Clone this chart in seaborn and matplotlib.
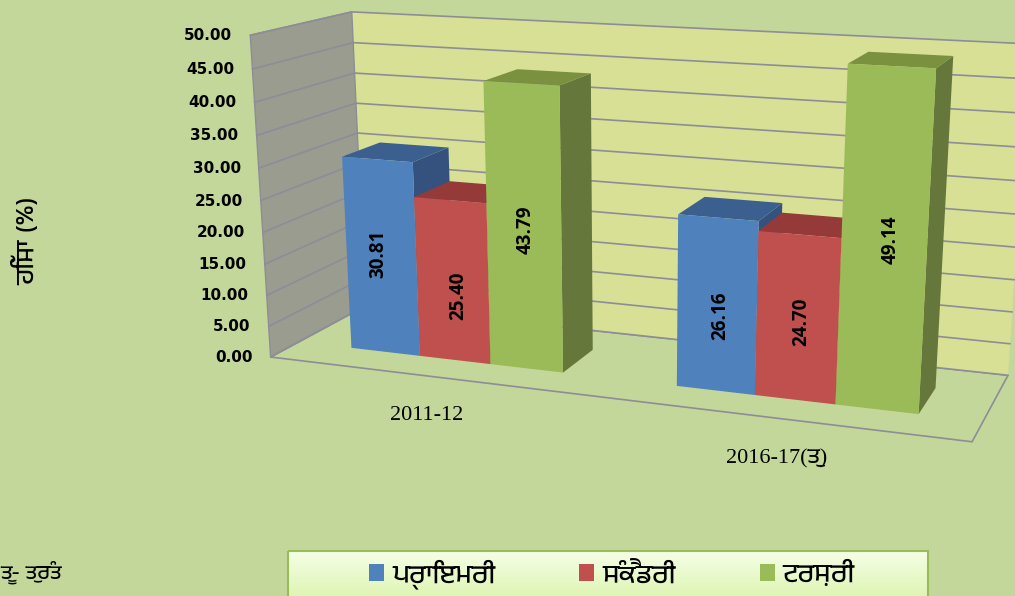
import matplotlib
matplotlib.use("Agg")
import matplotlib.pyplot as plt
import numpy as np
import pandas as pd
import seaborn as sns
from matplotlib import font_manager
from matplotlib.patches import Polygon, Rectangle
from matplotlib.transforms import Affine2D, Transform

W, H = 1015, 596
years = ["2011-12", "2016-17(ਤੁ)"]
levels = ["ਪ੍ਰਾਇਮਰੀ", "ਸੰਕੈਡਰੀ", "ਟਰਸ਼ਰੀ"]
primary = [30.81, 26.16]
secondary = [25.40, 24.70]
tertiary = [43.79, 49.14]
y_ticks = [0, 5, 10, 15, 20, 25, 30, 35, 40, 45, 50]

BG = "#c4d79b"
FRONT = ["#4f81bd", "#c0504d", "#9bbb59"]
TOP = ["#3b6090", "#953a38", "#7a9140"]
SIDE = ["#34527d", "#953a38", "#65773a"]
GRID = "#8d8d98"

# label offsets in pixels, left to right along the bars
LABEL_DX = [-3, 6, 2, 3, 4, 7]
LABEL_DY = [-3, 15, 0, 10, 4, -3]


def gurmukhi_families():
    found = []
    for entry in font_manager.fontManager.ttflist:
        try:
            if 0x0A2A in font_manager.get_font(entry.fname).get_charmap():
                found.append(entry.name)
        except Exception:
            continue
    return sorted(set(found))


UNI = gurmukhi_families() + ["Noto Sans", "DejaVu Sans"]

# where the chart box corners land in the picture: (x, value/50, depth) -> pixels
anchors = [
    ((0, 0, 0), (270, 357)),
    ((1, 0, 0), (972, 442)),
    ((0, 0, 1), (366, 306)),
    ((1, 0, 1), (1008, 375)),
    ((0, 1, 0), (251, 35)),
    ((0, 1, 1), (351, 12)),
    ((1, 1, 1), (1030, 44)),
]
rows, rhs = [], []
for (a, b, c), (u, v) in anchors:
    rows.append([a, b, c, 1, 0, 0, 0, 0, -u * a, -u * b, -u * c])
    rows.append([0, 0, 0, 0, a, b, c, 1, -v * a, -v * b, -v * c])
    rhs += [u, v]
sol = np.linalg.lstsq(np.array(rows, float), np.array(rhs, float), rcond=None)[0]
P = np.append(sol, 1.0).reshape(3, 4)


def project(x, val, z):
    x, val, z = np.broadcast_arrays(np.asarray(x, float), np.asarray(val, float), np.asarray(z, float))
    pts = np.stack([x, val / 50.0, z, np.ones_like(x, dtype=float)], axis=-1) @ P.T
    return pts[..., :2] / pts[..., 2:]


X0, X_STEP = 0.2525, 0.4985
Z0, Z1 = 0.28, 0.68


def to_world(cat):
    return X0 + X_STEP * np.asarray(cat, float)


class FrontFace(Transform):
    # seaborn's (category, value) onto the slanted front plane of the bars
    input_dims = output_dims = 2
    is_affine = False

    def transform_non_affine(self, values):
        values = np.asarray(values, float)
        uv = project(to_world(values[:, 0]), values[:, 1], Z0)
        return np.column_stack([uv[:, 0], H - uv[:, 1]])


sns.set_theme(style="white", rc={"figure.facecolor": BG})
fig = plt.figure(figsize=(W / 100, H / 100), dpi=100, facecolor=BG)
ax = fig.add_axes([0, 0, 1, 1])

df = pd.DataFrame({
    "year": years * 3,
    "level": [lv for lv in levels for _ in years],
    "share": primary + secondary + tertiary,
})
sns.barplot(data=df, x="year", y="share", hue="level", palette=FRONT, saturation=1,
            width=0.665, gap=0, linewidth=0, ax=ax)
pix = Affine2D().scale(1, -1).translate(0, H)

# walls and floor
floor = project([0, 1, 1, 0], 0, [0, 0, 1, 1])
back = project([0, 1, 1, 0], [0, 0, 50, 50], 1)
left = project(0, [0, 50, 50, 0], [0, 0, 1, 1])
ax.add_patch(Polygon(floor, closed=True, fc=BG, ec=GRID, lw=1.2, transform=pix, zorder=1, clip_on=False))
ax.add_patch(Polygon(back, closed=True, fc="#d8e096", ec="none", transform=pix, zorder=1, clip_on=False))
ax.add_patch(Polygon(left, closed=True, fc="#999c8e", ec=GRID, lw=1, transform=pix, zorder=1, clip_on=False))
for t in y_ticks:
    line = project([0, 0, 1], t, [0, 1, 1])
    ax.plot(line[:, 0], line[:, 1], color=GRID, lw=1.2, transform=pix, zorder=1.5, clip_on=False)
    edge = project(0, t, 0)
    ax.text(edge[0] - 18, edge[1] + 0.5, f"{t:.2f}", transform=pix, ha="right", va="center",
            fontsize=11, fontweight="bold", color="black", family="DejaVu Sans")

# 3D boxes, painted left to right so nearer neighbours cover the sides
bars = []
for i, cont in enumerate(ax.containers):
    for bar in cont:
        bars.append((bar.get_x(), i, bar))
bars.sort(key=lambda b: b[0])
face = FrontFace()
for rank, (_, i, bar) in enumerate(bars):
    z = 3 + rank
    x0, x1 = to_world([bar.get_x(), bar.get_x() + bar.get_width()])
    val = bar.get_height()
    top = project([x0, x1, x1, x0], val, [Z0, Z0, Z1, Z1])
    side = project(x1, [0, val, val, 0], [Z0, Z0, Z1, Z1])
    ax.add_patch(Polygon(side, closed=True, fc=SIDE[i], ec="none", transform=pix, zorder=z, clip_on=False))
    ax.add_patch(Polygon(top, closed=True, fc=TOP[i], ec="none", transform=pix, zorder=z, clip_on=False))
    bar.set_transform(face)
    bar.set_clip_on(False)
    bar.set_zorder(z + 0.5)
    mid = project((x0 + x1) / 2, val / 2, Z0)
    ax.text(mid[0] + LABEL_DX[rank], mid[1] + LABEL_DY[rank], f"{val:.2f}", transform=pix, rotation=90,
            ha="center", va="center", fontsize=13.5, fontweight="bold", family="Open Sans",
            color="black", zorder=z + 0.6)

ax.text(427, 415, years[0], transform=pix, ha="center", va="center", fontsize=16,
        family="Liberation Serif", color="black")
ax.text(777, 459, years[1], transform=pix, ha="center", va="center", fontsize=16,
        family=["Liberation Serif"] + UNI, color="black")
ax.text(25, 241, "ਹਿੱਸਾ (%)", transform=pix, rotation=90, ha="center", va="center", fontsize=19,
        family=UNI, fontweight="bold", color="black")
ax.text(62, 572, "ਤੂ- ਤੁਰੰਤ", transform=pix, ha="right", va="center", fontsize=15,
        family=UNI, color="black")

# legend panel
grad = np.linspace(0, 1, 50)[:, None, None] * (np.array([0.875, 0.96, 0.71]) - np.array([0.96, 1.0, 0.90])) + np.array([0.96, 1.0, 0.90])
ax.imshow(grad, extent=(288, 928, 596, 551), transform=pix, aspect="auto", zorder=20, clip_on=False)
ax.add_patch(Rectangle((288, 551), 640, 60, fc="none", ec="#9bbb59", lw=1.5, transform=pix, zorder=21, clip_on=False))
sns.move_legend(ax, "center", bbox_to_anchor=(612, 574), bbox_transform=pix, ncol=3, frameon=False,
                title=None, fontsize=19.5, handlelength=0.55, handleheight=0.55, columnspacing=3.1,
                handletextpad=0.3, labelcolor="black")
leg = ax.get_legend()
leg.set_zorder(30)
for txt in leg.get_texts():
    txt.set_family(UNI)

ax.set_axis_off()
fig.savefig("out.png", dpi=100, facecolor=BG)
